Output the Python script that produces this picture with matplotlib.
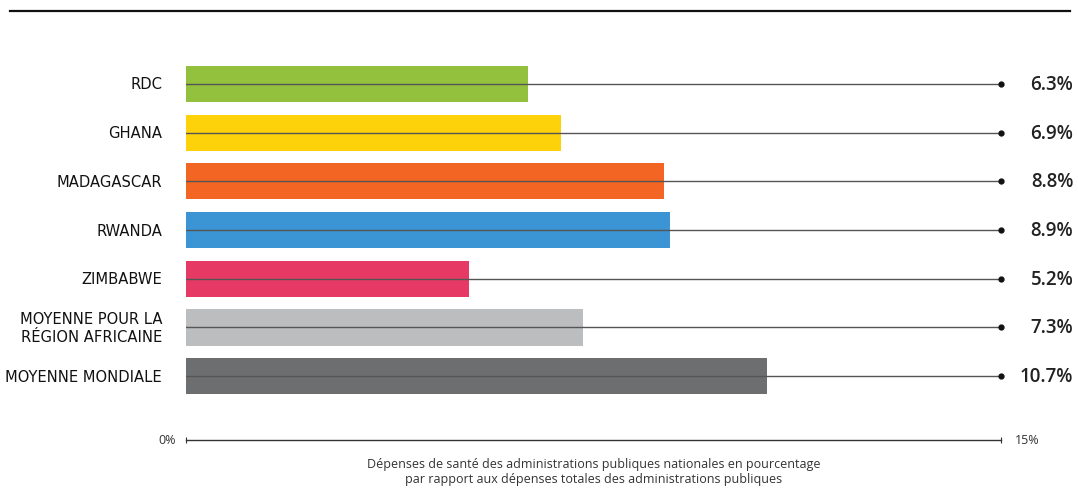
import matplotlib
matplotlib.use('Agg')
import matplotlib.pyplot as plt
from matplotlib.lines import Line2D

# data
categories = ['RDC', 'GHANA', 'MADAGASCAR', 'RWANDA', 'ZIMBABWE',
              'MOYENNE POUR LA\nRÉGION AFRICAINE', 'MOYENNE MONDIALE']
values = [6.3, 6.9, 8.8, 8.9, 5.2, 7.3, 10.7]
value_labels = ['6.3%', '6.9%', '8.8%', '8.9%', '5.2%', '7.3%', '10.7%']
colors = ['#93c13d', '#fdd20a', '#f26522', '#3b94d3', '#e63a64', '#bcbdbf', '#6d6e70']
xmax = 15
xtick_labels = ['0%', '15%']
xlabel = ('Dépenses de santé des administrations publiques nationales en pourcentage\n'
          'par rapport aux dépenses totales des administrations publiques')

label_font = ['Liberation Sans Narrow', 'DejaVu Sans']
body_font = ['Open Sans', 'DejaVu Sans']

W, H = 1078, 489
fig = plt.figure(figsize=(W / 100, H / 100), dpi=100)
ax = fig.add_axes([186 / W, 1 - 441 / H, 815 / W, 381 / H])

ypos = list(range(len(categories)))
ax.barh(ypos, values, height=0.74, color=colors, zorder=1)

for y, lab, vl in zip(ypos, categories, value_labels):
    ax.plot([0, xmax], [y, y], color='#555555', lw=1.0, zorder=2)
    ax.plot([xmax], [y], 'o', color='#111111', ms=3.5, zorder=3, clip_on=False)
    ax.text(16.33, y, vl, ha='right', va='center', fontsize=13.5,
            fontweight='semibold', family=body_font, color='#222222')
    ax.text(-0.44, y, lab, ha='right', va='center', fontsize=11.8,
            family=label_font, fontstretch='condensed', color='#111111',
            linespacing=1.3)

ax.set_xlim(0, xmax)
ax.set_ylim(7.31, -0.513)
for s in ['top', 'right', 'left']:
    ax.spines[s].set_visible(False)
ax.spines['bottom'].set_color('#333333')
ax.spines['bottom'].set_linewidth(1.0)
ax.set_yticks([])
ax.set_xticks([0, xmax])
ax.set_xticklabels([])
ax.tick_params(axis='x', direction='inout', length=5, width=0.8, color='#333333')
ax.text(-0.18, 7.31, xtick_labels[0], ha='right', va='center', fontsize=9,
        family=body_font, color='#333333')
ax.text(15.26, 7.31, xtick_labels[1], ha='left', va='center', fontsize=9,
        family=body_font, color='#333333')
ax.text(7.5, 7.66, xlabel, ha='center', va='top', fontsize=9,
        family=body_font, color='#333333', linespacing=1.15)

# top rule
fig.add_artist(Line2D([10 / W, 1070 / W], [1 - 12 / H, 1 - 12 / H],
                      color='#111111', lw=1.6, transform=fig.transFigure))

fig.savefig('out.png', dpi=100)
